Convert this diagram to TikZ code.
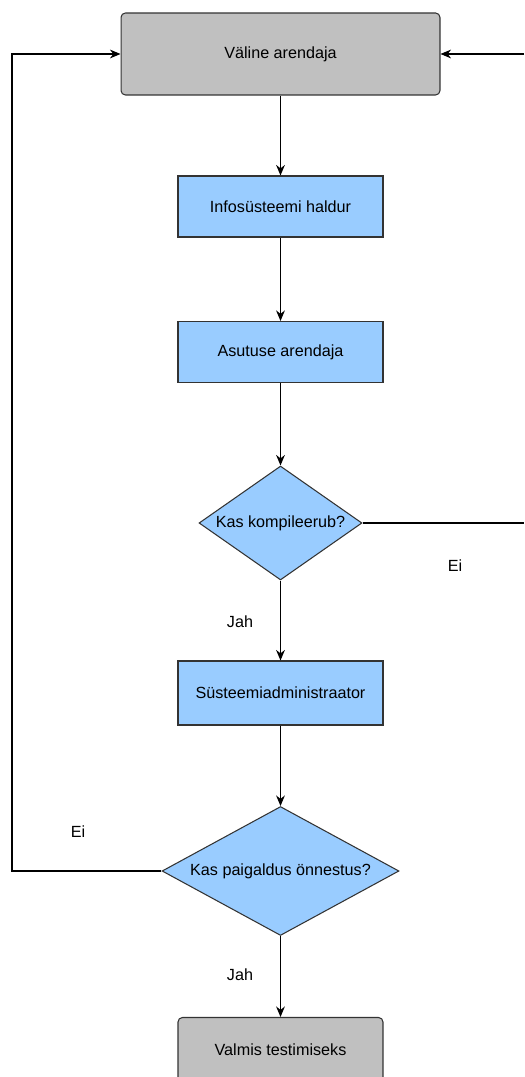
\documentclass[tikz,border=0pt]{standalone}
\usepackage{fontspec}
\setmainfont{Liberation Sans}
\usetikzlibrary{shapes.geometric, arrows.meta}

\definecolor{boxgray}{HTML}{C0C0C0}
\definecolor{boxblue}{HTML}{99CCFF}
\definecolor{edge}{HTML}{333333}

\begin{document}
\begin{tikzpicture}[x=0.02cm, y=-0.02cm,
        font=\fontsize{9.2}{11}\selectfont,
        line width=0.6pt,
        >={Stealth[length=6pt, width=5pt]},
        endbox/.style={draw=edge, fill=boxgray, rounded corners=2.5pt, inner sep=0pt},
        rolebox/.style={draw=edge, fill=boxblue, inner sep=0pt, minimum width=4.1cm, minimum height=1.22cm},
        question/.style={diamond, draw=edge, fill=boxblue, inner sep=0pt}]

        \useasboundingbox (0, 0) rectangle (524, 1077);

        % Boxes
        \node[endbox, minimum width=6.38cm, minimum height=1.64cm] (dev) at (280.5, 54) {Väline arendaja};
        \node[rolebox] (owner) at (280.5, 206.5) {Infosüsteemi haldur};
        \node[rolebox] (agency) at (280.5, 352) {Asutuse arendaja};
        \node[question, shape aspect=1.43, minimum width=3.26cm, minimum height=2.28cm] (compile) at (280.5, 523) {Kas kompileerub?};
        \node[rolebox, minimum height=1.28cm] (admin) at (280.5, 693) {Süsteemiadministraator};
        \node[question, shape aspect=1.84, minimum width=4.74cm, minimum height=2.58cm] (install) at (280.5, 871) {Kas paigaldus önnestus?};
        \node[endbox, minimum width=4.1cm, minimum height=1.3cm] (ready) at (280.5, 1050) {Valmis testimiseks};

        % Labels
        \node (no1) at (455, 566) {Ei};
        \node (yes1) at (240, 622) {Jah};
        \node (no2) at (78, 832) {Ei};
        \node (yes2) at (240, 975) {Jah};

        % Flow
        \draw[->] (dev) -- (owner);
        \draw[->] (owner) -- (agency);
        \draw[->] (agency) -- (compile);
        \draw[->] (compile) -- (admin);
        \draw[->] (admin) -- (install);
        \draw[->] (install) -- (ready);

        %% loops
        \coordinate (outtop) at (524, 54);
        \coordinate (outmid) at (524, 523);
        \coordinate (leftturn) at (12, 871);
        \draw[->] (outtop) -- (dev.east);
        \draw (compile.east) -- (outmid);
        \draw[->] (install.west) -- (leftturn) |- (dev.west);

    \end{tikzpicture}
\end{document}
